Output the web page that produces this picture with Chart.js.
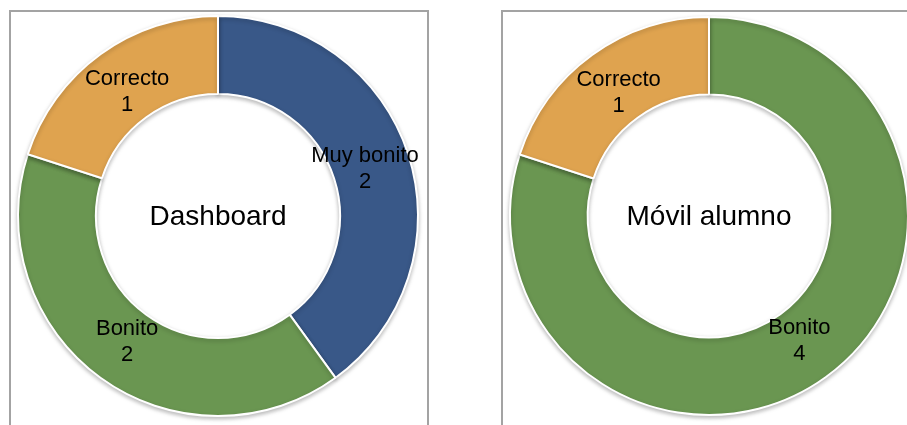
<!DOCTYPE html>
<html>
<head>
<meta charset="utf-8">
<script src="https://cdn.jsdelivr.net/npm/chart.js@4.4.0/dist/chart.umd.min.js"></script>
<style>
  html, body { margin: 0; padding: 0; background: #fff; overflow: hidden; width: 907px; height: 425px; }
  .box { position: absolute; top: 10px; height: 430px; border: 2px solid #a3a3a3; border-bottom: none; box-sizing: border-box; }
  .wrap { position: absolute; top: 0; height: 425px; }
</style>
</head>
<body>
<div class="box" style="left:9px; width:420px;"></div>
<div class="box" style="left:501px; width:420px;"></div>
<div class="wrap" style="left:0px; width:460px;"><canvas id="c1"></canvas></div>
<div class="wrap" style="left:460px; width:450px;"><canvas id="c2"></canvas></div>
<script>
// Dashboard
var dashLabels = ["Muy bonito", "Bonito", "Correcto"];
var dashValues = [2, 2, 1];
var dashColors = ["#395888", "#6a9651", "#dfa34f"];

// Móvil alumno
var movilLabels = ["Bonito", "Correcto"];
var movilValues = [4, 1];
var movilColors = ["#6a9651", "#dfa34f"];

var FONT = "'Liberation Sans', Arial, Helvetica, sans-serif";

// labels on the ring + title in the hole
var ringLabels = {
  id: "ringLabels",
  beforeDatasetsDraw: function(chart) {
    chart.ctx.save();
    chart.ctx.shadowColor = "rgba(0,0,0,0.25)";
    chart.ctx.shadowBlur = 4;
    chart.ctx.shadowOffsetY = 2;
  },
  afterDatasetsDraw: function(chart, args, opts) {
    var ctx = chart.ctx;
    ctx.restore();
    var meta = chart.getDatasetMeta(0);
    var ds = chart.data.datasets[0];
    var c = meta.data[0];
    ctx.save();
    ctx.fillStyle = "#000";
    ctx.textAlign = "center";
    ctx.textBaseline = "middle";
    ctx.font = "22px " + FONT;
    meta.data.forEach(function(arc, i) {
      var p = arc.getCenterPoint();
      // pull labels a little toward the hole
      var x = c.x + (p.x - c.x) * 0.96;
      var y = c.y + (p.y - c.y) * 0.96;
      ctx.fillText(chart.data.labels[i], x, y - 12);
      ctx.fillText(String(ds.data[i]), x, y + 14);
    });
    ctx.font = "28px " + FONT;
    ctx.fillText(opts.title, c.x, c.y + 1);
    ctx.restore();
  }
};

function makeDonut(id, labels, values, colors, title, pad) {
  return new Chart(document.getElementById(id), {
    type: "doughnut",
    data: {
      labels: labels,
      datasets: [{
        data: values,
        backgroundColor: colors,
        borderColor: "#ffffff",
        borderWidth: 2
      }]
    },
    options: {
      responsive: true,
      maintainAspectRatio: false,
      animation: false,
      cutout: "61%",
      layout: { padding: pad },
      plugins: {
        legend: { display: false },
        tooltip: { enabled: false },
        ringLabels: { title: title }
      }
    },
    plugins: [ringLabels]
  });
}

makeDonut("c1", dashLabels, dashValues, dashColors, "Dashboard",
  { left: 17, right: 41, top: 15, bottom: 8 });
makeDonut("c2", movilLabels, movilValues, movilColors, "Móvil alumno",
  { left: 49, right: 1, top: 16, bottom: 9 });
</script>
</body>
</html>
